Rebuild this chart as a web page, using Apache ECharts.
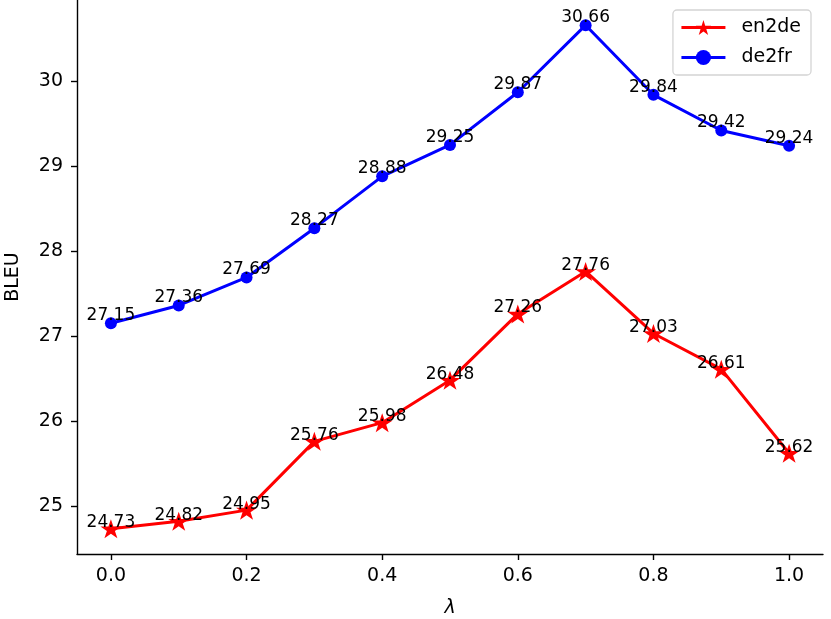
<!DOCTYPE html>
<html>
<head>
<meta charset="utf-8">
<script src="https://cdn.jsdelivr.net/npm/echarts@6/dist/echarts.min.js"></script>
<style>html,body{margin:0;padding:0;background:#fff;overflow:hidden}#c{width:831px;height:619px}</style>
</head>
<body>
<div id="c"></div>
<script>
const lambdas = [0.0, 0.1, 0.2, 0.3, 0.4, 0.5, 0.6, 0.7, 0.8, 0.9, 1.0];
const en2de = [24.73, 24.82, 24.95, 25.76, 25.98, 26.48, 27.26, 27.76, 27.03, 26.61, 25.62];
const de2fr = [27.15, 27.36, 27.69, 28.27, 28.88, 29.25, 29.87, 30.66, 29.84, 29.42, 29.24];
const xTicks = [0.0, 0.2, 0.4, 0.6, 0.8, 1.0];
const yTicks = [25, 26, 27, 28, 29, 30];

const FONT = 'DejaVu Sans';
const STAR = 'path://M50,0 L61.8,36.2 L100,36.2 L69.1,58.6 L80.9,95.1 L50,72.6 L19.1,95.1 L30.9,58.6 L0,36.2 L38.2,36.2 Z';
const chart = echarts.init(document.getElementById('c'), null, {renderer: 'canvas'});
const pairs = arr => lambdas.map((x, i) => [x, arr[i]]);
const lab = (dist) => ({
  show: true, position: 'top', distance: dist, color: '#000',
  fontFamily: FONT, fontSize: 17,
  formatter: p => p.value[1].toFixed(2)
});
chart.setOption({
  animation: false,
  backgroundColor: '#fff',
  grid: {left: 77, right: 8, top: 0, bottom: 65, containLabel: false, outerBoundsMode: 'none'},
  legend: {
    orient: 'vertical', right: 20, top: 10,
    data: ['en2de', 'de2fr'],
    itemWidth: 44, itemHeight: 19, itemGap: 11,
    lineStyle: {width: 3},
    padding: [8, 10, 8, 7],
    borderColor: '#d4d4d4', borderWidth: 1.3, borderRadius: 4,
    backgroundColor: 'rgba(255,255,255,0.8)',
    textStyle: {fontFamily: FONT, fontSize: 19, color: '#000', padding: [0, 0, 0, 11]}
  },
  xAxis: {
    type: 'value', min: -0.05, max: 1.05,
    name: 'λ', nameLocation: 'middle', nameGap: 45,
    nameTextStyle: {fontFamily: FONT, fontSize: 19, fontStyle: 'italic', color: '#000'},
    axisLine: {show: true, onZero: false, lineStyle: {color: '#000', width: 1.4}},
    axisTick: {show: true, length: 6, inside: false, lineStyle: {color: '#000', width: 1.4}, customValues: xTicks},
    axisLabel: {color: '#000', fontFamily: FONT, fontSize: 19, margin: 13, customValues: xTicks,
      formatter: v => v.toFixed(1)},
    splitLine: {show: false}
  },
  yAxis: {
    type: 'value', min: 24.4335, max: 30.9565,
    name: 'BLEU', nameLocation: 'middle', nameGap: 54,
    nameTextStyle: {fontFamily: FONT, fontSize: 19, color: '#000'},
    axisLine: {show: true, onZero: false, lineStyle: {color: '#000', width: 1.4}},
    axisTick: {show: true, length: 6, inside: false, lineStyle: {color: '#000', width: 1.4}, customValues: yTicks},
    axisLabel: {color: '#000', fontFamily: FONT, fontSize: 19, margin: 14, customValues: yTicks,
      formatter: v => String(v)},
    splitLine: {show: false}
  },
  series: [
    {
      name: 'en2de', type: 'line', data: pairs(en2de),
      symbol: STAR, symbolSize: [21, 20], symbolKeepAspect: true,
      lineStyle: {color: '#ff0000', width: 3},
      itemStyle: {color: '#ff0000'},
      label: lab(-12), z: 3
    },
    {
      name: 'de2fr', type: 'line', data: pairs(de2fr),
      symbol: 'circle', symbolSize: 12,
      lineStyle: {color: '#0000ff', width: 3},
      itemStyle: {color: '#0000ff'},
      label: lab(-7), z: 2
    }
  ]
});
</script>
</body>
</html>
